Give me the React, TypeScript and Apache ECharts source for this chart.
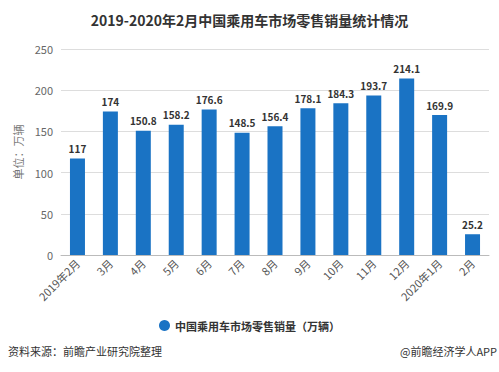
import React, { useEffect, useRef } from "react";
import * as echarts from "echarts";

const categories = ["2019年2月", "3月", "4月", "5月", "6月", "7月", "8月", "9月", "10月", "11月", "12月", "2020年1月", "2月"];
const sales = [117, 174, 150.8, 158.2, 176.6, 148.5, 156.4, 178.1, 184.3, 193.7, 214.1, 169.9, 25.2];
const seriesName = "中国乘用车市场零售销量（万辆）";
const titleText = "2019-2020年2月中国乘用车市场零售销量统计情况";
const yAxisName = "单位：万辆";
const sourceText = "资料来源：前瞻产业研究院整理";
const creditText = "@前瞻经济学人APP";

export default function App() {
  const ref = useRef<HTMLDivElement>(null);
  useEffect(() => {
    const chart = echarts.init(ref.current!, null, { renderer: "svg" });
    const font = "'Microsoft YaHei', 'Noto Sans CJK SC', sans-serif";
    chart.setOption({
      animation: false,
      backgroundColor: "#fff",
      textStyle: { fontFamily: font },
      title: {
        text: titleText,
        left: "center",
        top: 8,
        textStyle: { fontSize: 14, fontWeight: "bold", color: "#333", fontFamily: font },
      },
      grid: { left: 61, right: 10, top: 49, bottom: 117 },
      legend: {
        bottom: 36,
        left: "center",
        icon: "circle",
        itemWidth: 11,
        itemHeight: 11,
        textStyle: { fontSize: 11, color: "#333", fontWeight: "bold", fontFamily: font },
        data: [seriesName],
      },
      xAxis: {
        type: "category",
        data: categories,
        axisLine: { lineStyle: { color: "#bbb" } },
        axisTick: { alignWithLabel: true, length: 4, lineStyle: { color: "#bbb" } },
        axisLabel: { rotate: 45, fontSize: 11, color: "#555", interval: 0, margin: 6 },
      },
      yAxis: {
        type: "value",
        min: 0,
        max: 250,
        interval: 50,
        name: yAxisName,
        nameLocation: "middle",
        nameGap: 30,
        nameTextStyle: { fontSize: 11, color: "#777" },
        axisLine: { show: false },
        axisTick: { show: false },
        axisLabel: { fontSize: 11, color: "#666" },
        splitLine: { lineStyle: { color: "#ddd" } },
      },
      series: [
        {
          name: seriesName,
          type: "bar",
          data: sales,
          barWidth: 15,
          itemStyle: { color: "#1a73c4" },
          label: { show: true, position: "top", fontSize: 10, fontWeight: "bold", color: "#333" },
        },
      ],
      graphic: [
        { type: "text", left: 8, top: 345, style: { text: sourceText, fontSize: 11, fill: "#333", fontFamily: font } },
        { type: "text", right: 2, top: 345, style: { text: creditText, fontSize: 11, fill: "#333", fontFamily: font } },
      ],
    });
    return () => chart.dispose();
  }, []);
  return <div ref={ref} style={{ width: 499, height: 372, position: "absolute", left: 0, top: 0 }} />;
}
